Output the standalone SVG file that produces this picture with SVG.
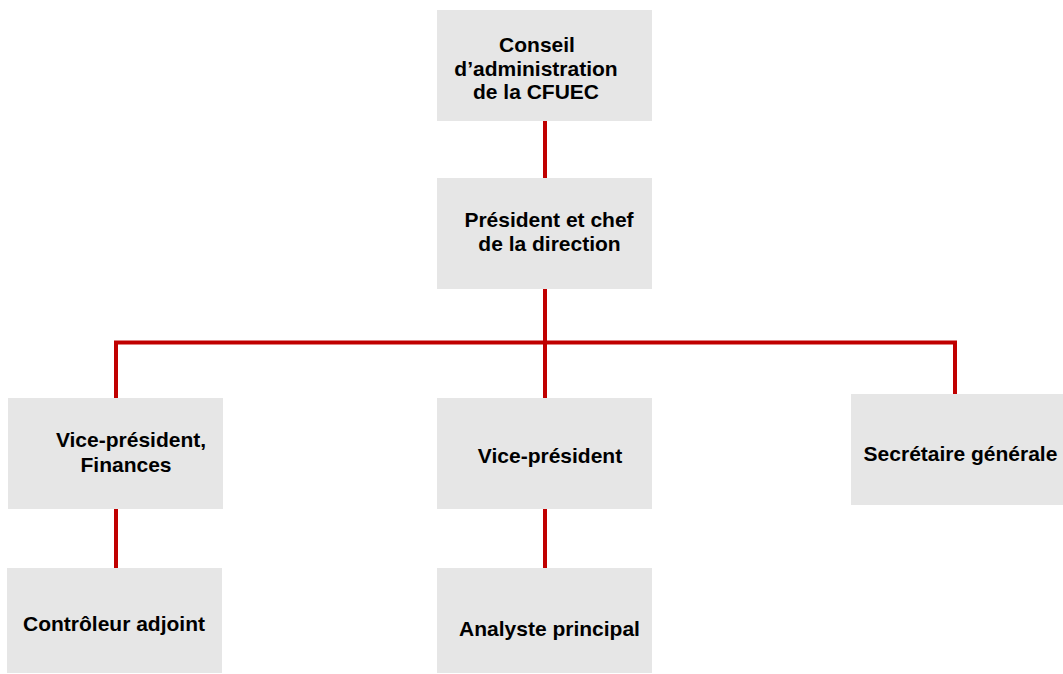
<svg xmlns="http://www.w3.org/2000/svg" width="1063" height="674" viewBox="0 0 1063 674">
  <style>
    .box { fill: #e6e6e6; }
    .lbl { font-family: "Liberation Sans", Arial, sans-serif; font-weight: bold; font-size: 21px; fill: #000; text-anchor: middle; }
    .wire { stroke: #c00000; stroke-width: 4; fill: none; stroke-linecap: butt; }
  </style>
  <rect width="1063" height="674" fill="#ffffff"/>

  <!-- connectors -->
  <g id="connectors">
    <line class="wire" x1="545" y1="121" x2="545" y2="178"/>
    <line class="wire" x1="545" y1="289" x2="545" y2="398"/>
    <polyline class="wire" points="116,398 116,342.5 955,342.5 955,394"/>
    <line class="wire" x1="116" y1="509" x2="116" y2="568"/>
    <line class="wire" x1="545" y1="509" x2="545" y2="568"/>
  </g>

  <g id="conseil">
    <rect class="box" x="437" y="10" width="215" height="111"/>
    <text class="lbl"><tspan x="537" y="52">Conseil</tspan><tspan x="536" y="76">d’administration</tspan><tspan x="536" y="99">de la CFUEC</tspan></text>
  </g>

  <g id="president">
    <rect class="box" x="437" y="178" width="215" height="111"/>
    <text class="lbl"><tspan x="549" y="227">Président et chef</tspan><tspan x="549.5" y="251">de la direction</tspan></text>
  </g>

  <g id="vp-finances">
    <rect class="box" x="8" y="398" width="215" height="111"/>
    <text class="lbl"><tspan x="131" y="447">Vice-président,</tspan><tspan x="126" y="472">Finances</tspan></text>
  </g>

  <g id="vp">
    <rect class="box" x="437" y="398" width="215" height="111"/>
    <text class="lbl" x="550" y="463">Vice-président</text>
  </g>

  <g id="secretaire">
    <rect class="box" x="851" y="394" width="215" height="111"/>
    <text class="lbl" x="960.5" y="461">Secrétaire générale</text>
  </g>

  <g id="controleur">
    <rect class="box" x="7" y="568" width="215" height="105"/>
    <text class="lbl" x="114" y="631">Contrôleur adjoint</text>
  </g>

  <g id="analyste">
    <rect class="box" x="437" y="568" width="215" height="105"/>
    <text class="lbl" x="549.5" y="636">Analyste principal</text>
  </g>
</svg>
